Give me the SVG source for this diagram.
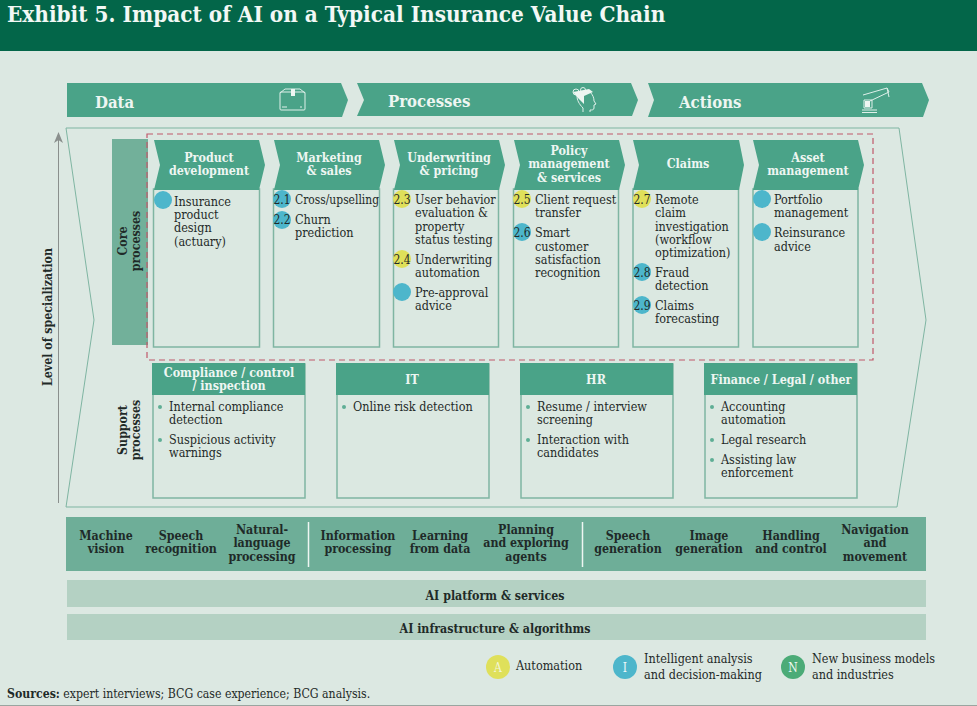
<svg xmlns="http://www.w3.org/2000/svg" width="977" height="706" viewBox="0 0 977 706">
<style>
text{font-family:"DejaVu Serif","Liberation Serif",serif;font-stretch:condensed;fill:#1f2a28}
.t{font-size:12.5px}
.h{font-size:12.4px;font-weight:700;fill:#eef6f2;text-anchor:middle}
.b{font-size:12.3px;font-weight:700;text-anchor:middle}
.big{font-size:16.6px;font-weight:700;fill:#eef6f2}
.n{font-size:12px;text-anchor:middle}
.g{fill:#4aa388}
.box{fill:#dbe8e1;stroke:#7fb5a2;stroke-width:1.5}
.y{fill:#dfe05a}.i{fill:#4db6cb}.gr{fill:#4bab77}
.dot{fill:#5fae95}
.ic{fill:none;stroke:#dff0ea;stroke-width:1}
</style>
<rect width="977" height="706" fill="#dce8e2"/>
<rect width="977" height="51" fill="#036649"/>
<text x="7" y="22" style="font-size:22.35px;font-weight:700;fill:#f2f8f5">Exhibit 5. Impact of AI on a Typical Insurance Value Chain</text>
<g id="chevrons">
<g id="data"><polygon class="g" points="67,83 341,83 348,100 342,117 67,117"/><text class="big" x="95" y="108">Data</text>
<g class="ic"><rect x="280" y="92" width="25" height="18" rx="1"/><path d="M280 93L285 89H300L305 93M282 107H287M301 106V108"/></g><rect x="291" y="89" width="4" height="7" fill="#eef6f2"/></g>
<g id="processes"><polygon class="g" points="357,83 631,83 638,100 632,116 357,116 364,100"/><text class="big" x="388" y="107">Processes</text>
<g class="ic"><path d="M583 112V108C579 104 577 100 577 96M590 92C593 95 594 98 594 101L596 104L594 105V108C594 110 592 110 590 110V112"/><circle cx="576" cy="92" r="3"/><circle cx="583" cy="90" r="2.500"/></g><path d="M573 92L589 89L593 92L584 96L584 104L578 98Z" fill="#eef6f2"/></g>
<g id="actions"><polygon class="g" points="648,83 922,83 929,100 923,117 648,117 654,100"/><text class="big" x="679" y="108">Actions</text>
<g class="ic"><path d="M863 95L887 88L889 92L870 101M887 88L889 97M864 100H872V108H864ZM862 110H877M862 112.500H877"/></g><rect x="865" y="101" width="5" height="6" fill="#eef6f2"/></g>
</g>
<g id="frame"><polygon points="66,128 899,128 926,320 897,507 66,507 94,320" fill="none" stroke="#7fb5a2" stroke-width="1"/></g>
<g id="axis"><path d="M58.500 136V503" stroke="#8a8f8d" stroke-width="1" fill="none"/><path d="M54 143L58.500 132L63 143L58.500 140Z" fill="#8a8f8d"/>
<text transform="translate(52 317) rotate(-90)" class="b">Level of specialization</text></g>
<g id="core-label"><rect x="112" y="139" width="36" height="206" fill="#72b09a"/>
<text transform="translate(127 241) rotate(-90)" class="b">Core</text><text transform="translate(140 241) rotate(-90)" class="b">processes</text></g>
<g id="support-label"><text transform="translate(127 430) rotate(-90)" class="b">Support</text><text transform="translate(140 430) rotate(-90)" class="b">processes</text></g>

<g id="core-1"><rect class="box" x="153.500" y="189" width="106" height="158"/><polygon class="g" points="154,140 259,140 265,165 259,190 154,190 160,165"/>
<text class="h" x="209" y="162">Product</text><text class="h" x="209" y="175">development</text>
<circle class="i" cx="163" cy="200" r="9"/>
<text class="t" x="174" y="206">Insurance</text><text class="t" x="174" y="219">product</text><text class="t" x="174" y="232">design</text><text class="t" x="174" y="246">(actuary)</text></g>
<g id="core-2"><rect class="box" x="273.500" y="189" width="106" height="158"/><polygon class="g" points="274,140 379,140 385,165 379,190 274,190 280,165"/>
<text class="h" x="329" y="162">Marketing</text><text class="h" x="329" y="175">&amp; sales</text>
<circle class="i" cx="282" cy="199" r="9"/><circle class="i" cx="282" cy="220" r="9"/>
<text class="n" x="282" y="204">2.1</text><text class="n" x="282" y="224">2.2</text>
<text class="t" x="295" y="204" textLength="84" lengthAdjust="spacingAndGlyphs">Cross/upselling</text><text class="t" x="295" y="224">Churn</text><text class="t" x="295" y="237">prediction</text></g>
<g id="core-3"><rect class="box" x="393.500" y="189" width="105" height="158"/><polygon class="g" points="394,140 499,140 505,165 499,190 394,190 400,165"/>
<text class="h" x="449" y="162">Underwriting</text><text class="h" x="449" y="175">&amp; pricing</text>
<circle class="y" cx="402" cy="199" r="9"/><circle class="y" cx="402" cy="259" r="9"/><circle class="i" cx="402" cy="292" r="9"/>
<text class="n" x="402" y="204">2.3</text><text class="n" x="402" y="264">2.4</text>
<text class="t" x="415" y="204">User behavior</text><text class="t" x="415" y="217">evaluation &amp;</text><text class="t" x="415" y="231">property</text><text class="t" x="415" y="244">status testing</text>
<text class="t" x="415" y="264">Underwriting</text><text class="t" x="415" y="277">automation</text><text class="t" x="415" y="297">Pre-approval</text><text class="t" x="415" y="310">advice</text></g>
<g id="core-4"><rect class="box" x="513.500" y="189" width="105" height="158"/><polygon class="g" points="514,140 619,140 625,165 619,190 514,190 520,165"/>
<text class="h" x="569" y="155">Policy</text><text class="h" x="569" y="168">management</text><text class="h" x="569" y="182">&amp; services</text>
<circle class="y" cx="522" cy="199" r="9"/><circle class="i" cx="522" cy="232" r="9"/>
<text class="n" x="522" y="204">2.5</text><text class="n" x="522" y="237">2.6</text>
<text class="t" x="535" y="204">Client request</text><text class="t" x="535" y="217">transfer</text><text class="t" x="535" y="237">Smart</text><text class="t" x="535" y="251">customer</text><text class="t" x="535" y="264">satisfaction</text><text class="t" x="535" y="277">recognition</text></g>
<g id="core-5"><rect class="box" x="633" y="189" width="105.500" height="158"/><polygon class="g" points="633,140 739,140 744,165 739,190 633,190 639,165"/>
<text class="h" x="688" y="168">Claims</text>
<circle class="y" cx="642" cy="199" r="9"/><circle class="i" cx="642" cy="272" r="9"/><circle class="i" cx="642" cy="305" r="9"/>
<text class="n" x="642" y="204">2.7</text><text class="n" x="642" y="277">2.8</text><text class="n" x="642" y="310">2.9</text>
<text class="t" x="655" y="204">Remote</text><text class="t" x="655" y="217">claim</text><text class="t" x="655" y="231">investigation</text><text class="t" x="655" y="244">(workflow</text><text class="t" x="655" y="257">optimization)</text><text class="t" x="655" y="277">Fraud</text><text class="t" x="655" y="290">detection</text><text class="t" x="655" y="310">Claims</text><text class="t" x="655" y="323">forecasting</text></g>
<g id="core-6"><rect class="box" x="753" y="189" width="105" height="158"/><polygon class="g" points="753,140 858,140 864,165 858,190 753,190 759,165"/>
<text class="h" x="808" y="162">Asset</text><text class="h" x="808" y="175">management</text>
<circle class="i" cx="762" cy="199" r="9"/><circle class="i" cx="762" cy="232" r="9"/>
<text class="t" x="774" y="204">Portfolio</text><text class="t" x="774" y="217">management</text><text class="t" x="774" y="237">Reinsurance</text><text class="t" x="774" y="251">advice</text></g>
<rect id="core-highlight" x="147" y="134" width="726" height="226" fill="none" stroke="#c0586a" stroke-width="1.2" stroke-dasharray="6 4"/>

<g id="support-1"><rect class="box" x="153" y="364" width="152" height="134"/><rect class="g" x="152" y="363" width="153" height="32"/>
<text class="h" x="229" y="377">Compliance / control</text><text class="h" x="229" y="390">/ inspection</text>
<circle class="dot" cx="160" cy="407" r="2"/><circle class="dot" cx="160" cy="440" r="2"/>
<text class="t" x="169" y="411">Internal compliance</text><text class="t" x="169" y="424">detection</text><text class="t" x="169" y="444">Suspicious activity</text><text class="t" x="169" y="457">warnings</text></g>
<g id="support-2"><rect class="box" x="337" y="364" width="152" height="134"/><rect class="g" x="336" y="363" width="153" height="32"/>
<text class="h" x="412" y="384">IT</text>
<circle class="dot" cx="344" cy="407" r="2"/>
<text class="t" x="353" y="411">Online risk detection</text></g>
<g id="support-3"><rect class="box" x="521" y="364" width="152" height="134"/><rect class="g" x="520" y="363" width="153" height="32"/>
<text class="h" x="596" y="384">HR</text>
<circle class="dot" cx="528" cy="407" r="2"/><circle class="dot" cx="528" cy="440" r="2"/>
<text class="t" x="537" y="411">Resume / interview</text><text class="t" x="537" y="424">screening</text><text class="t" x="537" y="444">Interaction with</text><text class="t" x="537" y="457">candidates</text></g>
<g id="support-4"><rect class="box" x="705" y="364" width="152" height="134"/><rect class="g" x="704" y="363" width="153" height="32"/>
<text class="h" x="781" y="384">Finance / Legal / other</text>
<circle class="dot" cx="712" cy="407" r="2"/><circle class="dot" cx="712" cy="440" r="2"/><circle class="dot" cx="712" cy="460" r="2"/>
<text class="t" x="721" y="411">Accounting</text><text class="t" x="721" y="424">automation</text><text class="t" x="721" y="444">Legal research</text><text class="t" x="721" y="464">Assisting law</text><text class="t" x="721" y="477">enforcement</text></g>

<g id="capabilities"><rect x="66" y="517" width="860" height="54" fill="#6eae98"/>
<path d="M308.500 522V567M582.500 522V567" stroke="#eef6f2" stroke-width="1.500"/>
<text class="b" x="106" y="540">Machine</text><text class="b" x="106" y="553">vision</text>
<text class="b" x="181" y="540">Speech</text><text class="b" x="181" y="553">recognition</text>
<text class="b" x="262" y="534">Natural-</text><text class="b" x="262" y="547">language</text><text class="b" x="262" y="561">processing</text>
<text class="b" x="358" y="540">Information</text><text class="b" x="358" y="553">processing</text>
<text class="b" x="440" y="540">Learning</text><text class="b" x="440" y="553">from data</text>
<text class="b" x="526" y="534">Planning</text><text class="b" x="526" y="547">and exploring</text><text class="b" x="526" y="561">agents</text>
<text class="b" x="628" y="540">Speech</text><text class="b" x="628" y="553">generation</text>
<text class="b" x="709" y="540">Image</text><text class="b" x="709" y="553">generation</text>
<text class="b" x="791" y="540">Handling</text><text class="b" x="791" y="553">and control</text>
<text class="b" x="875" y="534">Navigation</text><text class="b" x="875" y="547">and</text><text class="b" x="875" y="561">movement</text></g>
<g id="platform"><rect x="67" y="580" width="859" height="27" fill="#b4d1c3"/><text class="b" x="495" y="600">AI platform &amp; services</text></g>
<g id="infrastructure"><rect x="67" y="614" width="859" height="26" fill="#b4d1c3"/><text class="b" x="495" y="633">AI infrastructure &amp; algorithms</text></g>
<g id="legend">
<circle class="y" cx="498" cy="667" r="12"/><text class="n" x="498" y="672" style="fill:#f3f6d8">A</text><text class="t" x="516" y="670">Automation</text>
<circle class="i" cx="625" cy="667" r="12"/><text class="n" x="625" y="672" style="fill:#eef8fa">I</text><text class="t" x="644" y="663">Intelligent analysis</text><text class="t" x="644" y="679">and decision-making</text>
<circle class="gr" cx="793" cy="667" r="12"/><text class="n" x="793" y="672" style="fill:#eef8f2">N</text><text class="t" x="812" y="663">New business models</text><text class="t" x="812" y="679">and industries</text>
</g>
<text x="7" y="698" style="font-size:12.2px"><tspan font-weight="700">Sources:</tspan> expert interviews; BCG case experience; BCG analysis.</text>
<rect y="705" width="977" height="1" fill="#9aa5a0"/>
</svg>
